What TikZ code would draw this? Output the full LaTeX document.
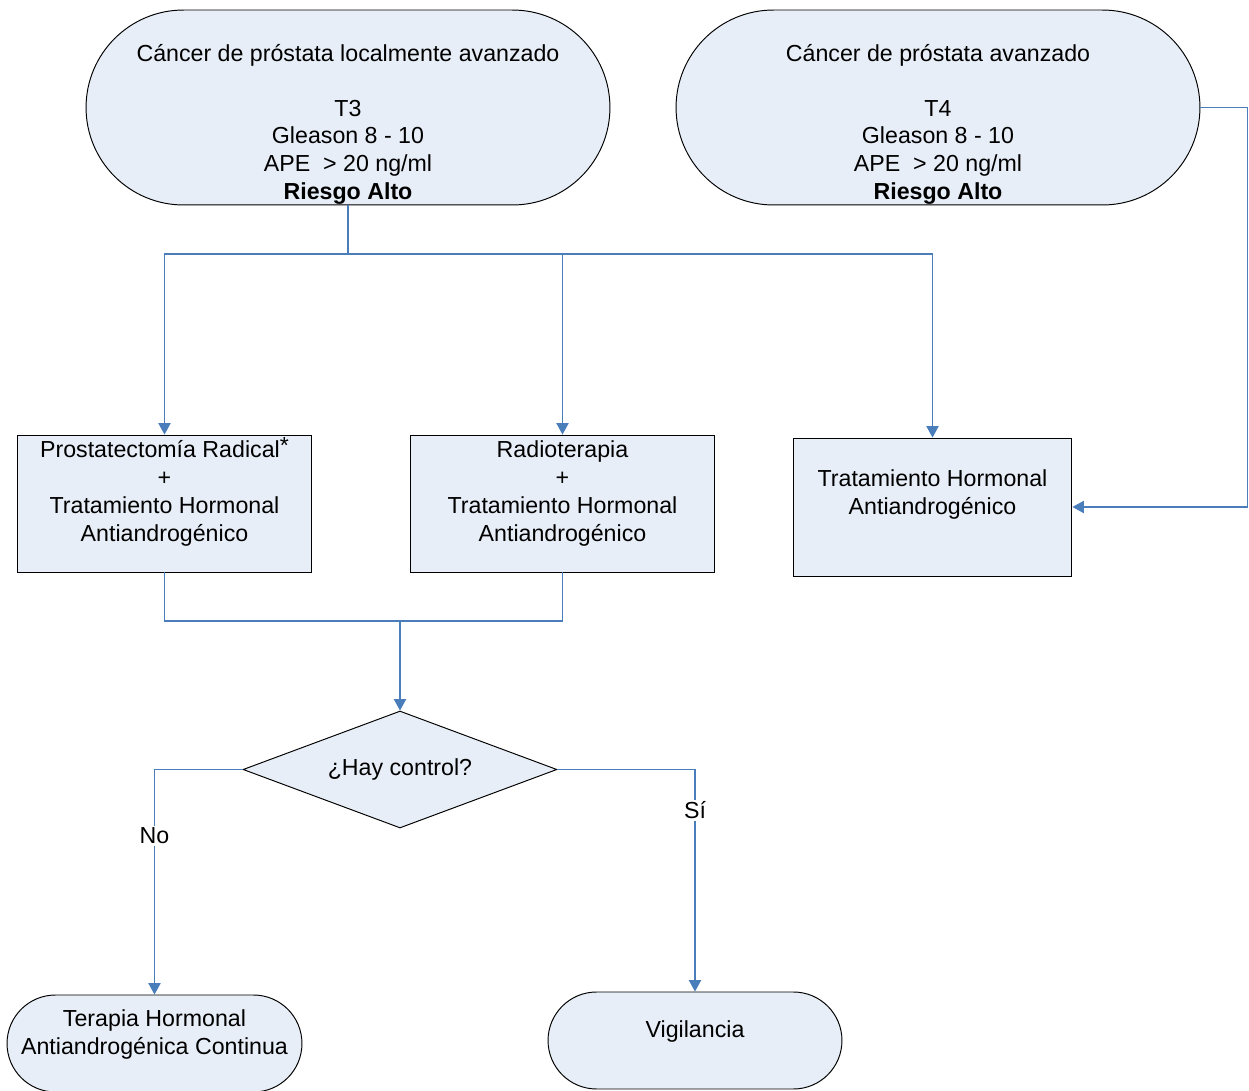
\documentclass[tikz,border=0pt]{standalone}
\usepackage{fontspec}
\setmainfont{Liberation Sans}
\usetikzlibrary{shapes.misc,shapes.geometric,arrows.meta,calc}

\definecolor{boxfill}{HTML}{E8EEF7}
\definecolor{flowblue}{HTML}{4A7EBB}

% struts to push the text inside a shape up or down
\newcommand{\padtop}[1]{\rule{0pt}{#1}}
\newcommand{\padbot}[1]{\rule[-#1]{0pt}{#1}}
% a line that may run over the rounded ends
\newcommand{\wideline}[1]{\makebox[0pt]{#1}}

\begin{document}
\begin{tikzpicture}[x=0.02cm,y=-0.02cm,
  font=\fontsize{13.2}{15.9}\selectfont,
  >={Triangle[length=6.5pt,width=7pt]},
  term/.style={rounded rectangle,draw=black,fill=boxfill,line width=0.55pt,
    inner sep=0pt,align=center},
  proc/.style={rectangle,draw=black,fill=boxfill,line width=0.55pt,
    inner sep=0pt,align=center},
  decide/.style={diamond,aspect=2.68,draw=black,fill=boxfill,line width=0.55pt,
    inner sep=0pt,align=center},
  flow/.style={draw=flowblue,line width=0.6pt},
  flowlabel/.style={fill=white,inner sep=1pt}]

  % Frame of the page
  \useasboundingbox (0,0) rectangle (1249,1091);

  % Starting stages
  \node[term,minimum width=10.48cm,minimum height=3.9cm] (t3) at (348,107.5)
    {\padtop{29pt}\wideline{Cáncer de próstata localmente avanzado}\\[15.3pt]
     T3\\Gleason 8 - 10\\APE~~> 20 ng/ml\\\textbf{Riesgo Alto}};
  \node[term,minimum width=10.48cm,minimum height=3.9cm] (t4) at (938,107.5)
    {\padtop{29pt}\wideline{Cáncer de próstata avanzado}\\[15.3pt]
     T4\\Gleason 8 - 10\\APE~~> 20 ng/ml\\\textbf{Riesgo Alto}};

  % Treatments
  \node[proc,minimum width=5.9cm,minimum height=2.74cm] (p1) at (164.5,503.5)
    {Prostatectomía Radical\raisebox{2.5pt}{*}\\+\\Tratamiento Hormonal\\Antiandrogénico\padbot{16.2pt}};
  \node[proc,minimum width=6.1cm,minimum height=2.74cm] (p2) at (562.5,503.5)
    {Radioterapia\\+\\Tratamiento Hormonal\\Antiandrogénico\padbot{13.9pt}};
  \node[proc,minimum width=5.58cm,minimum height=2.76cm] (p3) at (932.5,507)
    {Tratamiento Hormonal\\Antiandrogénico\padbot{16.7pt}};

  % Decision
  \node[decide,minimum width=6.28cm,minimum height=2.34cm] (dec) at (400,769.5)
    {¿Hay control?};

  % Outcomes
  \node[term,minimum width=5.9cm,minimum height=1.94cm] (e1) at (154.5,1043.5)
    {Terapia Hormonal\\\wideline{Antiandrogénica Continua}\padbot{12.8pt}};
  \node[term,minimum width=5.88cm,minimum height=1.94cm] (e2) at (695,1040.5)
    {Vigilancia\padbot{12.8pt}};

  % Coordinates
  \coordinate (split) at (348,254);   % branching below T3
  \coordinate (rside) at (1247.5,507); % right margin line
  \coordinate (join) at (400,621);    % merging above decision

  % Connectors
  \draw[flow] (t3.south) -- (split);
  \draw[flow,->] (split) -| (p1.north);
  \draw[flow,->] (split) -| (p2.north);
  \draw[flow,->] (split) -| (p3.north);
  \draw[flow,->] (t4.east) -| (rside) -- (p3.east);

  \draw[flow] (p1.south) |- (join) -| (p2.south);
  \draw[flow,->] (join) -- (dec.north);

  \draw[flow,->] (dec.west) -| node[flowlabel,pos=0.648] (no) {No} (e1.north);
  \draw[flow,->] (dec.east) -| node[flowlabel,pos=0.592] (si) {Sí} (e2.north);

\end{tikzpicture}
\end{document}
